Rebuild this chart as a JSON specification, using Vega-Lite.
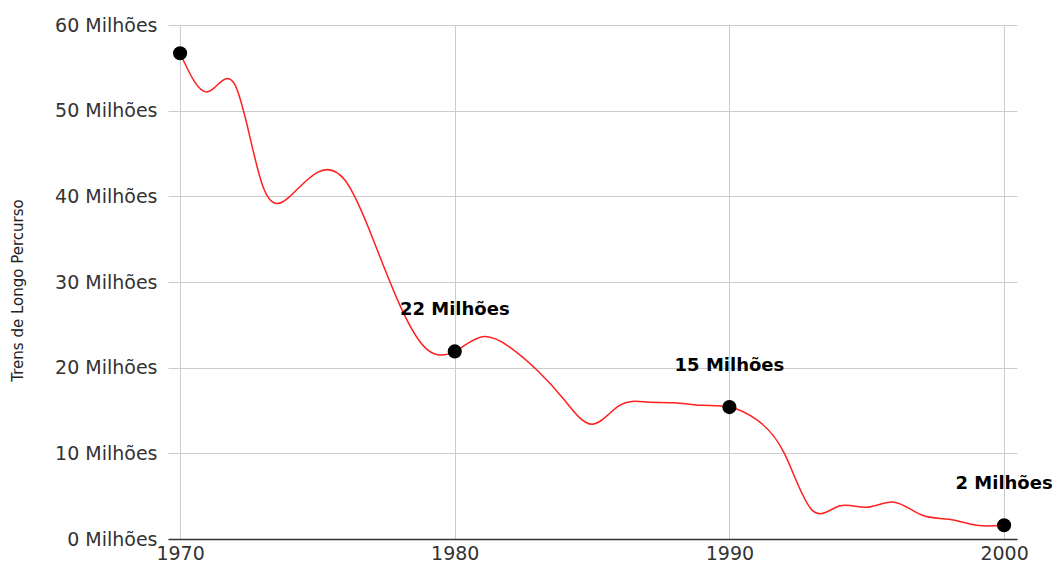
{
  "$schema": "https://vega.github.io/schema/vega-lite/v6.json",
  "autosize": {"type": "none"},
  "width": 849,
  "height": 514,
  "padding": {"left": 168, "top": 25, "right": 37, "bottom": 32},
  "background": "white",
  "config": {
    "view": {"stroke": null},
    "font": "DejaVu Sans"
  },
  "data": {
    "values": [
      {"ano": 1970, "trens": 56.7},
      {"ano": 1971, "trens": 52.2},
      {"ano": 1972, "trens": 53.0},
      {"ano": 1973, "trens": 41.3},
      {"ano": 1974, "trens": 40.0},
      {"ano": 1975, "trens": 42.8},
      {"ano": 1976, "trens": 41.9},
      {"ano": 1977, "trens": 35.2},
      {"ano": 1978, "trens": 27.3},
      {"ano": 1979, "trens": 22.1},
      {"ano": 1980, "trens": 21.9},
      {"ano": 1981, "trens": 23.6},
      {"ano": 1982, "trens": 22.4},
      {"ano": 1983, "trens": 19.7},
      {"ano": 1984, "trens": 16.2},
      {"ano": 1985, "trens": 13.4},
      {"ano": 1986, "trens": 15.6},
      {"ano": 1987, "trens": 16.0},
      {"ano": 1988, "trens": 15.9},
      {"ano": 1989, "trens": 15.6},
      {"ano": 1990, "trens": 15.4},
      {"ano": 1991, "trens": 13.9},
      {"ano": 1992, "trens": 10.0},
      {"ano": 1993, "trens": 3.4},
      {"ano": 1994, "trens": 3.85},
      {"ano": 1995, "trens": 3.7},
      {"ano": 1996, "trens": 4.3},
      {"ano": 1997, "trens": 2.8},
      {"ano": 1998, "trens": 2.3},
      {"ano": 1999, "trens": 1.6},
      {"ano": 2000, "trens": 1.6}
    ]
  },
  "encoding": {
    "x": {
      "field": "ano",
      "type": "quantitative",
      "scale": {"domain": [1969.56, 2000.47], "nice": false, "zero": false},
      "axis": {
        "title": null,
        "values": [1970, 1980, 1990, 2000],
        "format": "d",
        "grid": true,
        "gridColor": "#cccccc",
        "gridWidth": 1,
        "ticks": false,
        "domain": true,
        "domainColor": "#333333",
        "domainWidth": 1.5,
        "labelFont": "DejaVu Sans",
        "labelFontSize": 19,
        "labelColor": "#333333",
        "labelPadding": 5,
        "labelFlush": false
      }
    },
    "y": {
      "field": "trens",
      "type": "quantitative",
      "scale": {"domain": [0, 60], "nice": false},
      "axis": {
        "title": "Trens de Longo Percurso",
        "titleFont": "DejaVu Sans",
        "titleFontSize": 15,
        "titleFontWeight": "normal",
        "titleColor": "#222222",
        "titleAngle": -90,
        "titleX": -151,
        "titleY": 265,
        "titleAlign": "center",
        "titleBaseline": "middle",
        "values": [0, 10, 20, 30, 40, 50, 60],
        "labelExpr": "datum.value + ' Milhões'",
        "grid": true,
        "gridColor": "#cccccc",
        "gridWidth": 1,
        "ticks": false,
        "domain": false,
        "labelFont": "DejaVu Sans",
        "labelFontSize": 19,
        "labelColor": "#333333",
        "labelPadding": 11
      }
    }
  },
  "layer": [
    {
      "mark": {"type": "line", "interpolate": "natural", "color": "#ff2020", "strokeWidth": 1.5}
    },
    {
      "transform": [{"filter": "datum.ano % 10 === 0"}],
      "mark": {"type": "point", "filled": true, "color": "black", "opacity": 1, "size": 200}
    },
    {
      "transform": [
        {"filter": "datum.ano % 10 === 0 && datum.ano > 1970"},
        {"calculate": "format(datum.trens, '.0f') + ' Milhões'", "as": "rotulo"}
      ],
      "mark": {"type": "text", "font": "DejaVu Sans", "fontSize": 18, "fontWeight": "bold", "color": "black", "dy": -41, "align": "center", "baseline": "middle"},
      "encoding": {"text": {"field": "rotulo", "type": "nominal"}}
    }
  ]
}
